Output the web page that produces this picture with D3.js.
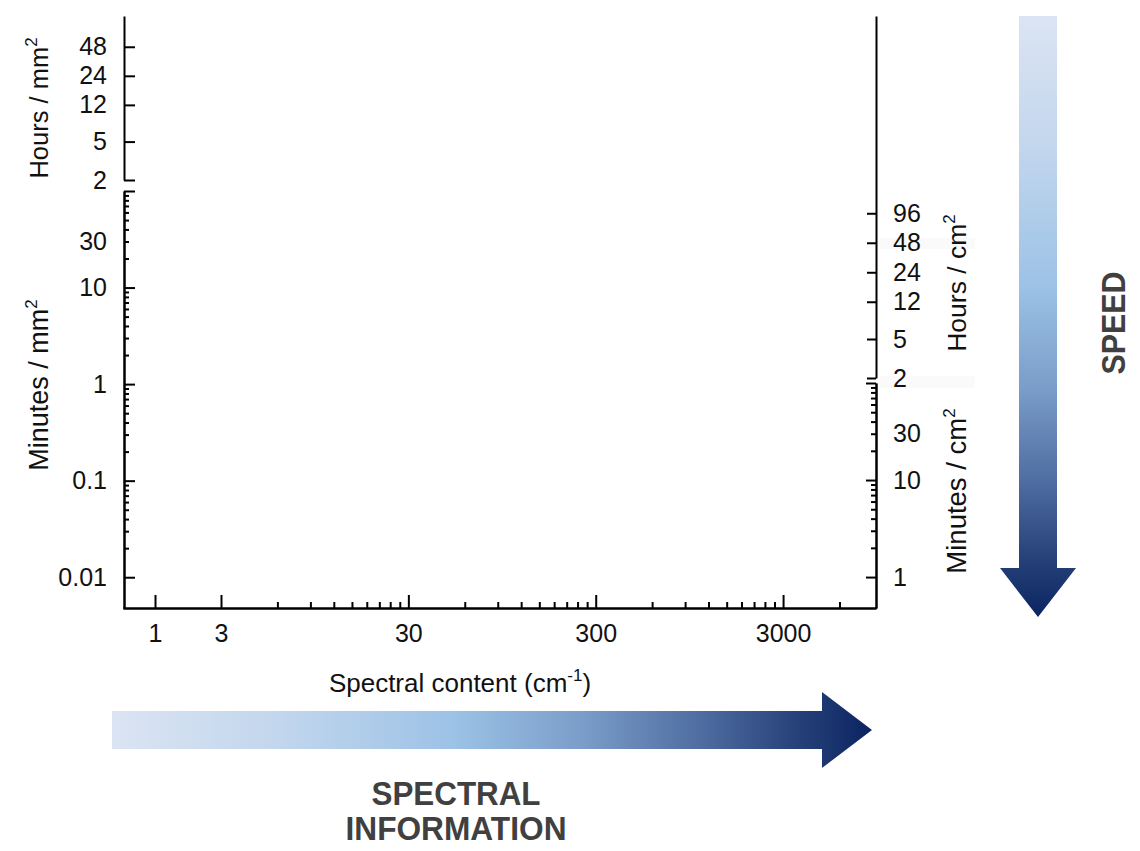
<!DOCTYPE html>
<html>
<head>
<meta charset="utf-8">
<script src="https://cdn.jsdelivr.net/npm/d3@7"></script>
<style>
  html, body { margin: 0; padding: 0; background: #fff; }
  svg { display: block; font-family: "Liberation Sans", Arial, sans-serif; }
  .axis path, .axis line { stroke: #000; stroke-width: 2; }
  .axis text { font-size: 25px; fill: #111; font-family: "Liberation Sans", Arial, sans-serif; }
</style>
</head>
<body>
<script>
// Tick values along the spectral-content axis (cm^-1)
const xLabelTicks = [1, 3, 30, 300, 3000];
const xMinorTicks = [6, 9, 12, 15, 18, 21, 24, 27,
                     60, 90, 120, 150, 180, 210, 240, 270,
                     600, 900, 1200, 1500, 1800, 2100, 2400, 2700,
                     6000];

// Left axis: acquisition time per mm^2
const leftHourTicks = [48, 24, 12, 5, 2];
const leftMinuteMajor = [100, 10, 1, 0.1, 0.01];
const leftMinuteLabels = [30, 10, 1, 0.1, 0.01];
const leftMinuteMinor = [90, 80, 70, 60, 50, 40, 30, 20,
                         9, 8, 7, 6, 5, 4, 3, 2,
                         0.9, 0.8, 0.7, 0.6, 0.5, 0.4, 0.3, 0.2,
                         0.09, 0.08, 0.07, 0.06, 0.05, 0.04, 0.03, 0.02];

// Right axis: acquisition time per cm^2
const rightHourTicks = [96, 48, 24, 12, 5, 2];
const rightMinuteMajor = [100, 10, 1];
const rightMinuteLabels = [30, 10, 1];
const rightMinuteMinor = [90, 80, 70, 60, 50, 40, 30, 20,
                          9, 8, 7, 6, 5, 4, 3, 2];

const W = 1140, H = 851;
const svg = d3.select("body").append("svg").attr("width", W).attr("height", H);

// Frame geometry
const frameL = 124, frameR = 876, frameT = 16, frameB = 608;

// Scales
const x = d3.scaleLog().domain([0.5, 1, 3, 9400]).range([frameL - 1, 155, 221, frameR]);
const yHoursL = d3.scaleLog().domain([2, 100]).range([180, frameT]);
const yMinL = d3.scaleLog().domain([0.0048, 100]).range([frameB, 191]);
const yHoursR = d3.scaleLog().domain([2, 9900]).range([378, frameT]);
const yMinR = d3.scaleLog().domain([0.48, 100]).range([frameB, 383]);

const fmt = d => String(d);
const blank = () => "";

// faint bands on the right-hand labels
svg.append("rect").attr("x", 880).attr("y", 238).attr("width", 95).attr("height", 11).attr("fill", "#fafafa");
svg.append("rect").attr("x", 880).attr("y", 376).attr("width", 95).attr("height", 12).attr("fill", "#fafafa");

function addAxis(axis, tx, ty) {
  return svg.append("g").attr("class", "axis").attr("transform", `translate(${tx},${ty})`).call(axis);
}

// ---- X axis ----
addAxis(d3.axisBottom(x).tickValues(xMinorTicks).tickFormat(blank).tickSizeInner(-6).tickSizeOuter(0), 0, frameB);
addAxis(d3.axisBottom(x).tickValues(xLabelTicks).tickFormat(fmt).tickSizeInner(-13).tickSizeOuter(0).tickPadding(16), 0, frameB);

// ---- Left axis: hours segment ----
addAxis(d3.axisLeft(yHoursL).tickValues(leftHourTicks).tickFormat(fmt).tickSizeInner(-11).tickSizeOuter(0).tickPadding(17), frameL, 0);

// ---- Left axis: minutes segment ----
addAxis(d3.axisLeft(yMinL).tickValues(leftMinuteMinor).tickFormat(blank).tickSizeInner(-5).tickSizeOuter(0), frameL, 0);
addAxis(d3.axisLeft(yMinL).tickValues(leftMinuteMajor).tickFormat(blank).tickSizeInner(-11).tickSizeOuter(0), frameL, 0);
addAxis(d3.axisLeft(yMinL).tickValues(leftMinuteLabels).tickFormat(fmt).tickSize(0).tickPadding(17), frameL, 0)
  .select(".domain").remove();

// ---- Right axis: hours segment ----
addAxis(d3.axisRight(yHoursR).tickValues(rightHourTicks).tickFormat(fmt).tickSizeInner(-9).tickSizeOuter(0).tickPadding(17), frameR, 0);

// ---- Right axis: minutes segment ----
addAxis(d3.axisRight(yMinR).tickValues(rightMinuteMinor).tickFormat(blank).tickSizeInner(-5).tickSizeOuter(0), frameR, 0);
addAxis(d3.axisRight(yMinR).tickValues(rightMinuteMajor).tickFormat(blank).tickSizeInner(-10).tickSizeOuter(0), frameR, 0);
addAxis(d3.axisRight(yMinR).tickValues(rightMinuteLabels).tickFormat(fmt).tickSize(0).tickPadding(17), frameR, 0)
  .select(".domain").remove();

svg.selectAll(".axis .tick text").attr("fill", "#111");

// ---- Axis titles with superscripts ----
function title(txt, sup, xPos, yPos, rotate, size) {
  const t = svg.append("text")
    .attr("transform", `translate(${xPos},${yPos})` + (rotate ? " rotate(-90)" : ""))
    .attr("text-anchor", "middle")
    .attr("font-size", size)
    .attr("fill", "#111");
  t.append("tspan").text(txt);
  t.append("tspan").attr("font-size", 17).attr("dy", -11).text(sup);
  return t;
}
title("Hours / mm", "2", 48, 108, true, 25.5);
title("Minutes / mm", "2", 48, 385, true, 27);
title("Hours / cm", "2", 966, 283, true, 26.5);
title("Minutes / cm", "2", 966, 491, true, 27.5);

const xt = svg.append("text").attr("x", 460).attr("y", 692).attr("text-anchor", "middle")
  .attr("font-size", 26).attr("fill", "#111");
xt.append("tspan").text("Spectral content (cm");
xt.append("tspan").attr("font-size", 17).attr("dy", -11).text("-1");
xt.append("tspan").attr("dy", 11).text(")");

// ---- Gradient arrows ----
const defs = svg.append("defs");
const stops = [
  [0, "#dbe4f3"], [0.22, "#c2d6ed"], [0.45, "#9cc2e6"],
  [0.62, "#7a9dc9"], [0.78, "#4d6b9f"], [0.9, "#27427a"], [1, "#0b2462"]
];
function grad(id, x1, y1, x2, y2) {
  const g = defs.append("linearGradient").attr("id", id)
    .attr("gradientUnits", "userSpaceOnUse")
    .attr("x1", x1).attr("y1", y1).attr("x2", x2).attr("y2", y2);
  stops.forEach(([o, c]) => g.append("stop").attr("offset", o).attr("stop-color", c));
}
grad("gh", 112, 0, 872, 0);
grad("gv", 0, 16, 0, 617);

svg.append("polygon")
  .attr("points", [[112, 711], [822, 711], [822, 692], [872, 730], [822, 768], [822, 749], [112, 749]].join(" "))
  .attr("fill", "url(#gh)");
svg.append("polygon")
  .attr("points", [[1019, 16], [1057, 16], [1057, 568], [1076, 568], [1038, 617], [1000, 568], [1019, 568]].join(" "))
  .attr("fill", "url(#gv)");

// ---- Bold captions ----
function bold(txt, xPos, yPos, len, rotate) {
  svg.append("text")
    .attr("transform", `translate(${xPos},${yPos})` + (rotate ? " rotate(-90)" : ""))
    .attr("text-anchor", "middle")
    .attr("font-size", 34).attr("font-weight", "bold").attr("fill", "#404040")
    .attr("textLength", len).attr("lengthAdjust", "spacingAndGlyphs")
    .text(txt);
}
bold("SPECTRAL", 456, 805, 169, false);
bold("INFORMATION", 456, 840, 221, false);
bold("SPEED", 1125, 323, 103, true);
</script>
</body>
</html>
